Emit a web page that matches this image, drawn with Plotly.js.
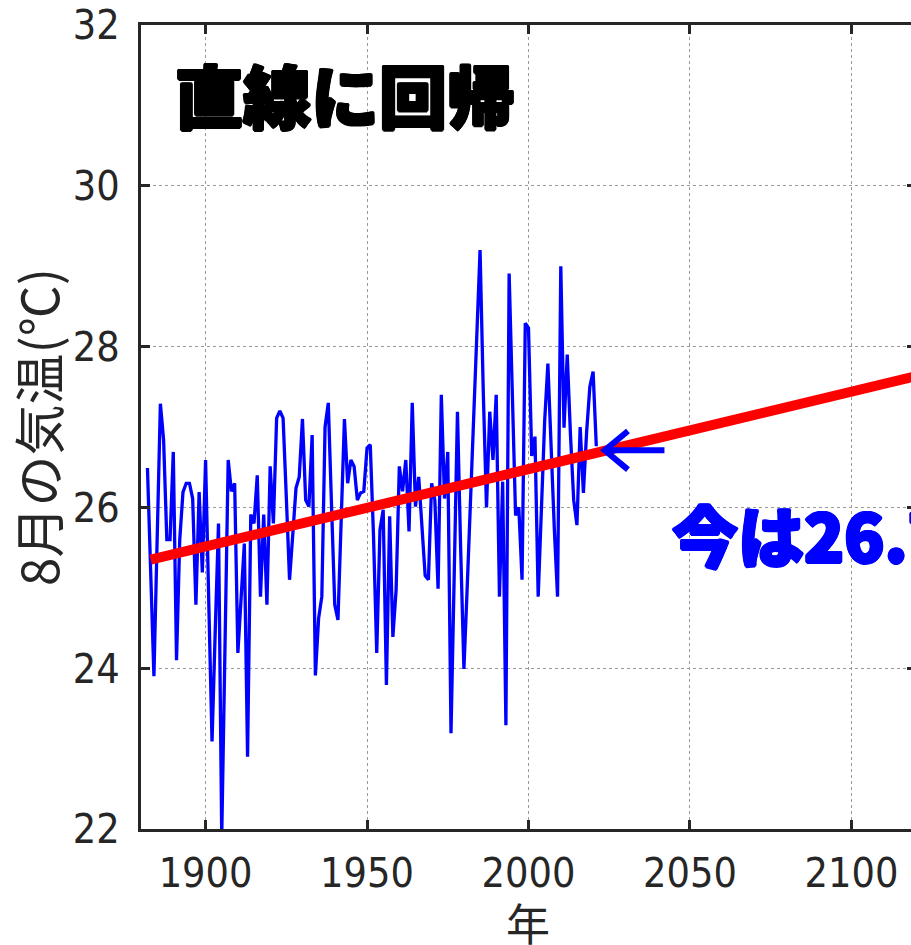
<!DOCTYPE html>
<html>
<head>
<meta charset="utf-8">
<script src="https://cdn.plot.ly/plotly-3.0.1.min.js"></script>
<style>
html,body{margin:0;padding:0;overflow:hidden;background:#fff;}
#chart{width:930px;height:945px;}
</style>
</head>
<body>
<div id="chart"></div>
<script>
// August mean temperature (°C)
const startYear = 1882;
const temps = [
26.49,25.20,23.90,25.60,27.29,26.84,25.60,25.60,26.69,24.10,
25.60,26.19,26.30,26.30,26.11,24.79,26.19,25.19,26.59,24.80,
23.09,24.48,25.80,21.90,24.40,26.59,26.20,26.30,24.19,24.87,
25.55,22.90,25.91,25.80,26.40,24.89,25.91,24.79,26.51,25.80,
27.11,27.20,27.11,26.13,25.10,25.66,26.24,26.38,27.10,26.09,
26.01,26.90,23.91,24.62,24.89,27.00,27.30,26.03,24.79,24.60,
25.85,27.10,26.30,26.59,26.51,26.09,26.18,26.20,26.74,26.78,
25.65,24.19,25.72,25.97,23.79,25.89,24.39,24.97,26.51,26.20,
26.59,25.70,27.30,26.01,26.38,25.72,25.15,25.10,26.30,26.09,
24.99,27.40,26.11,26.69,23.19,25.17,27.19,25.47,23.99,24.99,
26.07,27.15,28.18,29.20,27.43,26.00,27.19,26.59,27.40,24.89,
26.32,23.29,28.91,27.24,25.90,26.00,25.10,28.29,28.23,26.64,
26.88,24.89,26.03,27.07,27.79,26.68,25.73,24.89,29.00,26.99,
27.90,26.90,26.09,25.78,27.00,26.18,26.94,27.50,27.69,26.76
];
const years = temps.map((_, i) => startYear + i);

// Linear regression line
const trendYears = [1883, 2125];
const trendValues = [25.35, 27.68];

// Arrow ("now") and labels
const nowYear = 2023.6, nowValue = 26.71;
const xTicks = [1900, 1950, 2000, 2050, 2100];
const yTicks = [22, 24, 26, 28, 30, 32];
const titleText = '直線に回帰';
const nowText = '今は26.7℃';
const yTitle = '8月の気温(℃)';
const xTitle = '年';

const axisColor = '#262626';
const tickFont = {family: 'Liberation Sans Narrow, Arial Narrow, DejaVu Sans Condensed, sans-serif', size: 41, color: axisColor};
const jpFont = 'Noto Sans CJK JP, sans-serif';
const heavy = c => `1.5px 0 0 ${c}, -1.5px 0 0 ${c}, 0 1.5px 0 ${c}, 0 -1.5px 0 ${c}, 1px 1px 0 ${c}, -1px -1px 0 ${c}, 1px -1px 0 ${c}, -1px 1px 0 ${c}`;

const traces = [
  {x: years, y: temps, type: 'scatter', mode: 'lines',
   line: {color: '#0000FF', width: 3.3}, hoverinfo: 'skip'},
  {x: trendYears, y: trendValues, type: 'scatter', mode: 'lines',
   line: {color: '#FF0000', width: 10}, hoverinfo: 'skip'}
];

const layout = {
  width: 930, height: 945,
  margin: {l: 141, r: 14, t: 25, b: 116},
  paper_bgcolor: '#fff', plot_bgcolor: '#fff',
  showlegend: false,
  xaxis: {
    range: [1880, 2120], tickvals: xTicks, ticktext: xTicks.map(String),
    ticks: 'inside', ticklen: 9, tickwidth: 3, tickcolor: axisColor,
    showline: true, linecolor: axisColor, linewidth: 3, mirror: 'allticks',
    showgrid: true, gridcolor: '#9a9a9a', gridwidth: 1, griddash: 'dot',
    zeroline: false, tickfont: tickFont, ticklabelstandoff: 6,
    ticklabeloverflow: 'allow'
  },
  yaxis: {
    range: [22, 32], tickvals: yTicks, ticktext: yTicks.map(String),
    ticks: 'inside', ticklen: 9, tickwidth: 3, tickcolor: axisColor,
    showline: true, linecolor: axisColor, linewidth: 3, mirror: 'allticks',
    showgrid: true, gridcolor: '#9a9a9a', gridwidth: 1, griddash: 'dot',
    zeroline: false, tickfont: tickFont, ticklabelstandoff: 10,
    ticklabeloverflow: 'allow',
    title: {text: yTitle, font: {family: jpFont, size: 51, color: axisColor}, standoff: 14}
  },
  shapes: [
    {type: 'path', xref: 'x', yref: 'y',
     path: `M ${nowYear+18.5} ${nowValue} L ${nowYear} ${nowValue} M ${nowYear+7.2} ${nowValue+0.24} L ${nowYear} ${nowValue} L ${nowYear+7.2} ${nowValue-0.24}`,
     line: {color: '#0000FF', width: 6}}
  ],
  annotations: [
    {xref: 'paper', yref: 'paper', x: 0.4995, y: -0.1155, xanchor: 'center', yanchor: 'middle',
     text: xTitle, showarrow: false,
     font: {family: jpFont, size: 44, color: axisColor}},
    {xref: 'x', yref: 'y', x: 1890.0, y: 31.15, xanchor: 'left', yanchor: 'middle',
     text: titleText, showarrow: false,
     font: {family: jpFont, size: 68, color: '#000', weight: 900, shadow: heavy('#000')}},
    {xref: 'x', yref: 'y', x: 2043.8, y: 25.68, xanchor: 'left', yanchor: 'middle',
     text: nowText, showarrow: false,
     font: {family: jpFont, size: 66, color: '#0000FF', weight: 900, shadow: heavy('#0000FF')}}
  ]
};

Plotly.newPlot('chart', traces, layout, {displayModeBar: false, staticPlot: true});
</script>
</body>
</html>
